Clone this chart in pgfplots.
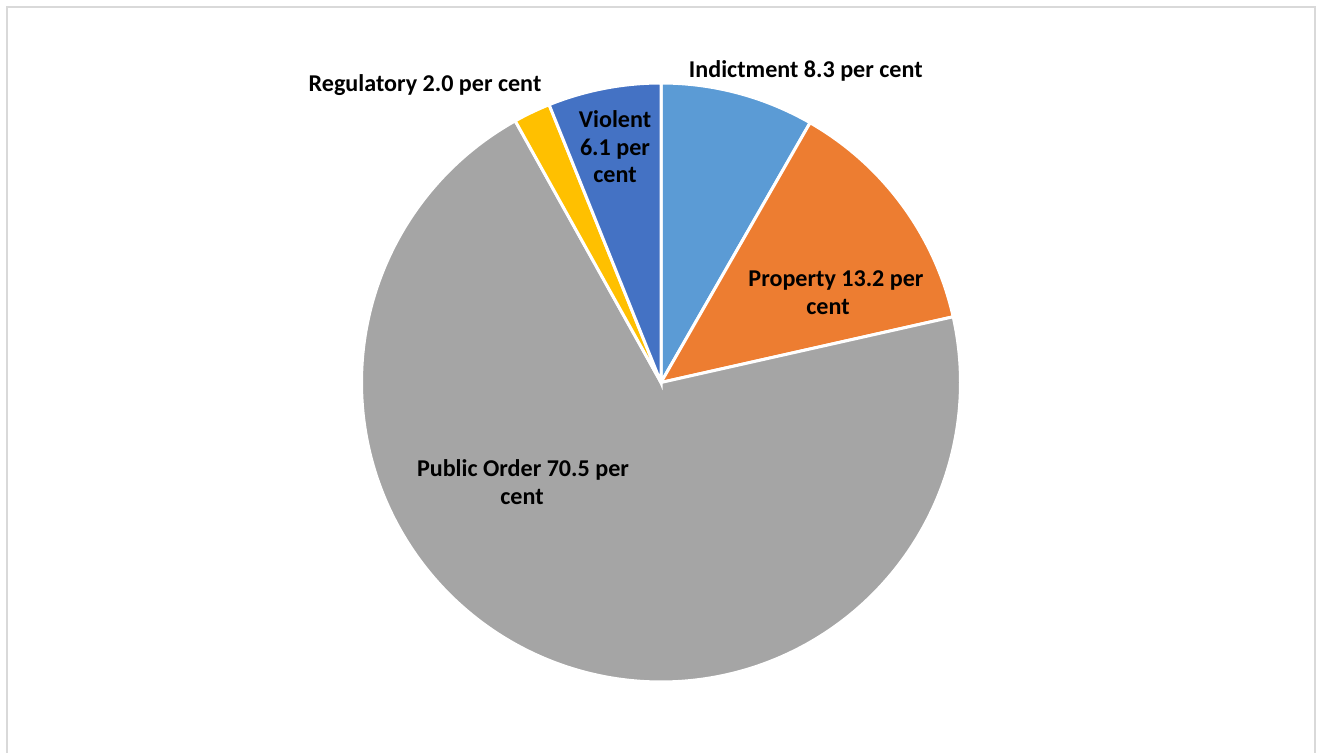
\documentclass[border=0pt]{standalone}
\usepackage{pgfplots}
\usepackage{pgfplotstable}
\pgfplotsset{compat=1.18}
\usepackage{fontspec}
\setmainfont{Carlito}
\definecolor{cIndict}{HTML}{5B9BD5}
\definecolor{cProp}{HTML}{ED7D31}
\definecolor{cPub}{HTML}{A5A5A5}
\definecolor{cReg}{HTML}{FFC000}
\definecolor{cViol}{HTML}{4472C4}
\definecolor{cFrame}{HTML}{D9D9D9}

\pgfplotstableread{
name value
Indictment 8.3
Property 13.2
PublicOrder 70.5
Regulatory 2.0
Violent 6.1
}\piedata

\begin{document}
\begin{tikzpicture}
\pgfplotstablegetelem{0}{value}\of\piedata \let\vA\pgfplotsretval
\pgfplotstablegetelem{1}{value}\of\piedata \let\vB\pgfplotsretval
\pgfplotstablegetelem{2}{value}\of\piedata \let\vC\pgfplotsretval
\pgfplotstablegetelem{3}{value}\of\piedata \let\vD\pgfplotsretval
\pgfplotstablegetelem{4}{value}\of\piedata \let\vE\pgfplotsretval
\pgfmathsetmacro\tot{\vA+\vB+\vC+\vD+\vE}
\pgfmathsetmacro\k{360/\tot}
\pgfmathsetmacro\aZ{90}
\pgfmathsetmacro\aA{\aZ-\vA*\k}
\pgfmathsetmacro\aB{\aA-\vB*\k}
\pgfmathsetmacro\aC{\aB-\vC*\k}
\pgfmathsetmacro\aD{\aC-\vD*\k}
\pgfmathsetmacro\aE{\aD-\vE*\k}
\def\cx{661}\def\cy{370.5}\def\R{299.5}
\begin{axis}[
  at={(0,0)}, anchor=south west,
  scale only axis, width=661bp, height=376.5bp,
  xmin=0, xmax=1322, ymin=0, ymax=753,
  hide axis, clip=false, enlargelimits=false,
]
\addplot[fill=cIndict, draw=white, line width=1.5bp, domain=\aA:\aZ, samples=80, variable=\t]
  ({\cx+\R*cos(\t)},{\cy+\R*sin(\t)}) -- (axis cs:\cx,\cy) -- cycle;
\addplot[fill=cProp, draw=white, line width=1.5bp, domain=\aB:\aA, samples=80, variable=\t]
  ({\cx+\R*cos(\t)},{\cy+\R*sin(\t)}) -- (axis cs:\cx,\cy) -- cycle;
\addplot[fill=cPub, draw=white, line width=1.5bp, domain=\aC:\aB, samples=300, variable=\t]
  ({\cx+\R*cos(\t)},{\cy+\R*sin(\t)}) -- (axis cs:\cx,\cy) -- cycle;
\addplot[fill=cReg, draw=white, line width=1.5bp, domain=\aD:\aC, samples=20, variable=\t]
  ({\cx+\R*cos(\t)},{\cy+\R*sin(\t)}) -- (axis cs:\cx,\cy) -- cycle;
\addplot[fill=cViol, draw=white, line width=1.5bp, domain=\aE:\aD, samples=60, variable=\t]
  ({\cx+\R*cos(\t)},{\cy+\R*sin(\t)}) -- (axis cs:\cx,\cy) -- cycle;

\draw[cFrame, line width=0.9bp] (axis cs:7,-10) -- (axis cs:7,746) -- (axis cs:1315,746) -- (axis cs:1315,-10);

\begin{scope}[every node/.style={anchor=base, inner sep=0pt, font=\fontsize{12.1}{14}\selectfont\bfseries}]
\node at (axis cs:805.8,675) {Indictment 8.3 per cent};
\node at (axis cs:425,661.3) {Regulatory 2.0 per cent};
\node at (axis cs:615,625) {Violent};
\node at (axis cs:615,597) {6.1 per};
\node at (axis cs:615,570) {cent};
\node at (axis cs:836,466.3) {Property 13.2 per};
\node at (axis cs:828,438) {cent};
\node at (axis cs:523,276.3) {Public Order 70.5 per};
\node at (axis cs:522,248) {cent};
\end{scope}
\end{axis}
\pgfresetboundingbox
\useasboundingbox (0,0) rectangle (661bp,376.5bp);
\end{tikzpicture}
\end{document}
